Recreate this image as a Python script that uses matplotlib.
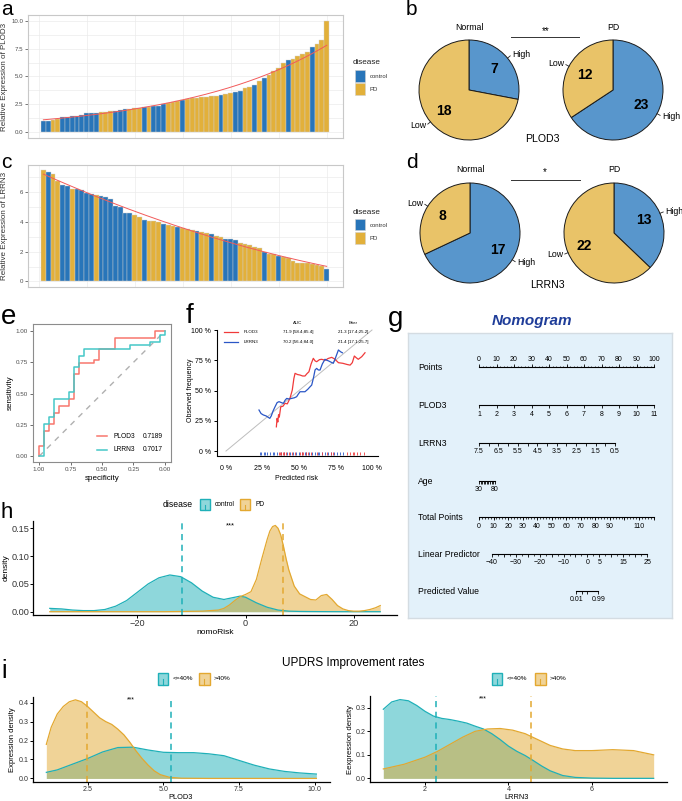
import matplotlib
matplotlib.use("Agg")
import matplotlib.pyplot as plt
import numpy as np
from matplotlib.patches import Rectangle
from matplotlib.lines import Line2D

plt.rcParams['font.family'] = ['Liberation Sans', 'DejaVu Sans']

W, H = 682, 801

# ------- data -------
# a: PLOD3 expression per sample, sorted; C = control, P = PD
plod3_expr = [1.0, 1.03, 1.1, 1.2, 1.34, 1.38, 1.45, 1.5, 1.6, 1.7,
              1.75, 1.78, 1.8, 1.85, 1.9, 1.95, 2.0, 2.05, 2.1, 2.15,
              2.2, 2.28, 2.3, 2.35, 2.4, 2.5, 2.6, 2.75, 2.85, 2.9,
              3.0, 3.05, 3.1, 3.15, 3.2, 3.25, 3.3, 3.35, 3.4, 3.55,
              3.65, 3.7, 3.95, 4.1, 4.25, 4.6, 4.9, 5.1, 5.5, 5.8,
              6.2, 6.5, 6.6, 6.8, 7.0, 7.2, 7.6, 7.9, 8.3, 10.0]
plod3_group = list("CCPPCCCCCCCCPPPCCCPPPCPCCCPPPCPPPPPPPCPPCCPPCPCPPPPCPPPPCPPP")

# c: LRRN3 expression per sample, sorted
lrrn3_expr = [7.45, 7.3, 7.2, 6.75, 6.45, 6.4, 6.2, 6.16, 6.1, 5.93,
              5.87, 5.8, 5.75, 5.66, 5.53, 5.08, 4.97, 4.6, 4.58, 4.47,
              4.3, 4.1, 4.07, 4.02, 3.96, 3.87, 3.8, 3.73, 3.66, 3.55,
              3.5, 3.46, 3.39, 3.28, 3.24, 3.15, 3.06, 2.97, 2.85, 2.83,
              2.79, 2.56, 2.52, 2.45, 2.34, 2.22, 2.0, 1.84, 1.82, 1.71,
              1.62, 1.55, 1.39, 1.26, 1.24, 1.21, 1.15, 1.1, 1.03, 0.85]
lrrn3_group = list("PCPPCCPCCCCPCCCCCCCPPCPPPCPPCPPPCPPCPPCCCPPPPPCPPCPPPPPPPPPC")

# b, d: counts High / Low
pie_b_normal = [7, 18]     # High, Low
pie_b_pd = [23, 12]        # High, Low
pie_d_normal = [17, 8]     # High, Low
pie_d_pd = [13, 22]        # High, Low

# e: ROC curves (specificity, sensitivity)
roc_plod3_spec = [1, 1, 0.96, 0.96, 0.92, 0.92, 0.88, 0.88, 0.84, 0.84, 0.76, 0.76, 0.72, 0.72,
                  0.68, 0.68, 0.56, 0.56, 0.52, 0.52, 0.40, 0.40, 0.08, 0.08, 0.0]
roc_plod3_sens = [0, 0.086, 0.086, 0.2, 0.2, 0.257, 0.257, 0.343, 0.343, 0.4, 0.4, 0.457, 0.457, 0.657,
                  0.657, 0.743, 0.743, 0.771, 0.771, 0.857, 0.857, 0.943, 0.943, 1.0, 1.0]
roc_lrrn3_spec = [1, 0.96, 0.96, 0.92, 0.92, 0.88, 0.88, 0.76, 0.76, 0.72, 0.72, 0.68, 0.68,
                  0.64, 0.64, 0.28, 0.28, 0.12, 0.12, 0.04, 0.04, 0.0, 0.0]
roc_lrrn3_sens = [0, 0, 0.257, 0.257, 0.314, 0.314, 0.457, 0.457, 0.514, 0.514, 0.714, 0.714, 0.80,
                  0.80, 0.857, 0.857, 0.886, 0.886, 0.914, 0.914, 0.971, 0.971, 1.0]
auc_plod3, auc_lrrn3 = 0.7189, 0.7017

# f: calibration curves
cal_plod3_x = [0.345, 0.35, 0.355, 0.36, 0.365, 0.375, 0.39, 0.404, 0.42, 0.438, 0.454, 0.465, 0.473,
               0.49, 0.507, 0.525, 0.541, 0.555, 0.568, 0.583, 0.598, 0.61, 0.621, 0.64, 0.655, 0.68,
               0.70, 0.724, 0.745, 0.77, 0.80, 0.83, 0.85, 0.865, 0.879, 0.893, 0.906, 0.93, 0.952]
cal_plod3_y = [0.20, 0.27, 0.24, 0.30, 0.28, 0.366, 0.37, 0.394, 0.39, 0.435, 0.504, 0.60, 0.642,
               0.632, 0.628, 0.62, 0.62, 0.64, 0.655, 0.72, 0.766, 0.745, 0.738, 0.755, 0.758, 0.75,
               0.765, 0.774, 0.76, 0.73, 0.725, 0.715, 0.71, 0.73, 0.785, 0.77, 0.758, 0.78, 0.812]
cal_lrrn3_x = [0.226, 0.24, 0.256, 0.275, 0.30, 0.31, 0.322, 0.336, 0.35, 0.363, 0.38, 0.393, 0.405,
               0.416, 0.43, 0.45, 0.468, 0.484, 0.495, 0.507, 0.525, 0.541, 0.56, 0.575, 0.587, 0.60,
               0.61, 0.621, 0.632, 0.644, 0.66, 0.678, 0.69, 0.70, 0.718, 0.735, 0.75, 0.77, 0.785, 0.797]
cal_lrrn3_y = [0.339, 0.31, 0.298, 0.29, 0.27, 0.29, 0.33, 0.366, 0.40, 0.408, 0.40, 0.394, 0.42,
               0.435, 0.43, 0.435, 0.44, 0.449, 0.47, 0.49, 0.49, 0.49, 0.51, 0.53, 0.545, 0.61,
               0.67, 0.683, 0.67, 0.669, 0.72, 0.758, 0.75, 0.746, 0.735, 0.725, 0.77, 0.835, 0.82, 0.812]
rug_plod3 = [0.36, 0.37, 0.38, 0.39, 0.40, 0.41, 0.43, 0.45, 0.47, 0.51, 0.52, 0.53, 0.55, 0.56,
             0.58, 0.62, 0.66, 0.69, 0.72, 0.73, 0.83, 0.85, 0.87, 0.88, 0.90, 0.92, 0.945]
rug_lrrn3 = [0.23, 0.24, 0.26, 0.27, 0.28, 0.30, 0.32, 0.33, 0.35, 0.38, 0.40, 0.42, 0.44, 0.46,
             0.48, 0.50, 0.52, 0.54, 0.55, 0.57, 0.59, 0.61, 0.63, 0.64, 0.66, 0.68, 0.70, 0.72,
             0.74, 0.76, 0.78, 0.80]
cal_rows = [["PLOD3", "71.9 [58.4;85.4]", "21.3 [17.4;25.2]"],
            ["LRRN3", "70.2 [56.4;84.0]", "21.4 [17.1;25.7]"]]

# g: nomogram scales
nomo_names = ["Points", "PLOD3", "LRRN3", "Age", "Total Points", "Linear Predictor", "Predicted Value"]
points_ticks = [0, 10, 20, 30, 40, 50, 60, 70, 80, 90, 100]
plod3_ticks = [1, 2, 3, 4, 5, 6, 7, 8, 9, 10, 11]
plod3_pts = [0, 100]                      # points at PLOD3 = 1 and 11
lrrn3_ticks = [7.5, 7, 6.5, 6, 5.5, 5, 4.5, 4, 3.5, 3, 2.5, 2, 1.5, 1, 0.5]
lrrn3_labels = [7.5, 6.5, 5.5, 4.5, 3.5, 2.5, 1.5, 0.5]
lrrn3_pts = [0, 77.7]                     # points at LRRN3 = 7.5 and 0.5
age_ticks = [30, 35, 40, 45, 50, 55, 60, 65, 70, 75, 80]
age_labels = [30, 80]
age_pts = [0, 9]                          # points at age 30 and 80
total_ticks = [0, 10, 20, 30, 40, 50, 60, 70, 80, 90, 100, 110, 120]
total_labels = [0, 10, 20, 30, 40, 50, 60, 70, 80, 90, 110]
lp_ticks = [-40, -35, -30, -25, -20, -15, -10, -5, 0, 5, 10, 15, 20, 25]
lp_labels = [-40, -30, -20, -10, 0, 5, 15, 25]
pred_ticks = [0.01, 0.1, 0.5, 0.99]
pred_labels = [0.01, 0.99]

# h: nomoRisk density
h_x_ctrl = [-36.2, -34, -32, -30, -28, -26, -24, -22, -20, -18, -16, -14, -12, -10, -8, -6, -4, -2, -1, 0,
            2, 4, 6, 8, 10, 12, 15, 18, 21, 24.9]
h_y_ctrl = [0.006, 0.005, 0.003, 0.002, 0.002, 0.004, 0.010, 0.020, 0.035, 0.050, 0.061, 0.066, 0.063,
            0.052, 0.037, 0.026, 0.022, 0.026, 0.028, 0.026, 0.016, 0.008, 0.003, 0.001, 0.0005, 0.0003,
            0.0001, 0.0, 0.0, 0.0]
h_x_pd = [-36.2, -25, -15, -8, -5, -4, -3, -2, -1, 0, 1, 2, 3, 4, 4.5, 5, 5.5, 6, 6.5, 7, 7.5, 8, 9, 10,
          11, 12, 13, 14, 15, 16, 17, 18, 19, 20, 21, 22, 23, 24, 24.9]
h_y_pd = [0.0, 0.0, 0.0, 0.001, 0.003, 0.006, 0.012, 0.020, 0.027, 0.031, 0.036, 0.058, 0.095, 0.130,
          0.145, 0.153, 0.155, 0.150, 0.138, 0.118, 0.095, 0.075, 0.046, 0.032, 0.027, 0.022, 0.021,
          0.029, 0.031, 0.022, 0.011, 0.005, 0.002, 0.001, 0.001, 0.002, 0.004, 0.007, 0.011]
h_mean_ctrl, h_mean_pd = -11.7, 6.9

# i: UPDRS improvement densities
i1_x_lo = [1.14, 1.5, 2.0, 2.5, 3.0, 3.5, 4.0, 4.5, 5.0, 5.5, 6.0, 6.5, 7.0, 7.5, 8.0, 8.5, 9.0, 9.5, 10.05]
i1_y_lo = [0.032, 0.045, 0.075, 0.105, 0.14, 0.163, 0.165, 0.15, 0.138, 0.136, 0.136, 0.13, 0.12,
           0.095, 0.07, 0.05, 0.037, 0.029, 0.023]
i1_x_hi = [1.14, 1.3, 1.5, 1.7, 1.9, 2.1, 2.3, 2.5, 2.7, 2.9, 3.1, 3.3, 3.5, 3.7, 3.9, 4.1, 4.3, 4.5,
           4.7, 4.9, 5.2, 5.6, 6.5, 10.05]
i1_y_hi = [0.18, 0.27, 0.34, 0.38, 0.405, 0.415, 0.405, 0.38, 0.35, 0.32, 0.30, 0.285, 0.26, 0.23,
           0.19, 0.145, 0.105, 0.07, 0.04, 0.02, 0.006, 0.001, 0.0, 0.0]
i1_mean_lo, i1_mean_hi = 5.24, 2.48
i2_x_lo = [1.0, 1.2, 1.4, 1.6, 1.8, 2.0, 2.2, 2.4, 2.6, 2.8, 3.0, 3.2, 3.4, 3.6, 3.8, 4.0, 4.2, 4.4,
           4.6, 4.8, 5.0, 5.3, 5.6, 6.0, 6.5, 7.0, 7.48]
i2_y_lo = [0.294, 0.325, 0.335, 0.33, 0.31, 0.285, 0.265, 0.255, 0.25, 0.243, 0.235, 0.222, 0.21,
           0.19, 0.165, 0.137, 0.115, 0.097, 0.075, 0.052, 0.032, 0.012, 0.004, 0.001, 0.0, 0.0, 0.0]
i2_x_hi = [1.0, 1.5, 2.0, 2.3, 2.6, 2.9, 3.2, 3.5, 3.8, 4.1, 4.4, 4.7, 5.0, 5.3, 5.6, 6.0, 6.5, 7.0, 7.48]
i2_y_hi = [0.04, 0.06, 0.09, 0.115, 0.145, 0.175, 0.2, 0.21, 0.212, 0.205, 0.19, 0.165, 0.14, 0.125,
           0.118, 0.118, 0.122, 0.118, 0.1]
i2_mean_lo, i2_mean_hi = 2.26, 4.55

# ------- colours -------
BAR_BLUE, BAR_YEL = "#2875B9", "#E2B03A"
PIE_BLUE, PIE_YEL = "#5896CC", "#E9C368"
RED_FIT = "#F25A5A"
ROC_RED, ROC_TEAL = "#F8766D", "#45C8C8"
CAL_RED, CAL_BLUE = "#F03A3A", "#2A56C6"
TEAL, YEL = "#1FB0B8", "#E3A830"

fig = plt.figure(figsize=(W / 100, H / 100), dpi=100)


def fx(x):
    return x / W


def fy(y):
    return 1 - y / H


def add_ax(x0, y0, x1, y1):
    return fig.add_axes([fx(x0), fy(y1), (x1 - x0) / W, (y1 - y0) / H])


def ftext(x, y, s, **kw):
    kw.setdefault('ha', 'center')
    kw.setdefault('va', 'center')
    return fig.text(fx(x), fy(y), s, **kw)


def fline(xs, ys, **kw):
    fig.add_artist(Line2D([fx(v) for v in xs], [fy(v) for v in ys], transform=fig.transFigure, **kw))


def fbox(x0, y0, x1, y1, face, edge, lw=0.8):
    fig.add_artist(Rectangle((fx(x0), fy(y1)), (x1 - x0) / W, (y1 - y0) / H,
                             transform=fig.transFigure, facecolor=face, edgecolor=edge, lw=lw))


def density_key(x0, y0, x1, y1, col):
    fbox(x0, y0, x1, y1, matplotlib.colors.to_rgba(col, 0.5), col, lw=1.0)
    xm = (x0 + x1) / 2
    fline([xm, xm], [y1, y0 + 0.5 * (y1 - y0)], color=col, lw=0.8)


# ------- a / c : sorted bar plots -------
def bar_panel(box, values, groups, ylim, yticks, yminor, ylabel, fit_deg, logfit):
    ax = add_ax(*box)
    x = np.arange(1, len(values) + 1)
    cols = [BAR_BLUE if g == "C" else BAR_YEL for g in groups]
    ax.bar(x, values, width=1.0, color=cols, edgecolor="#d0d0d0", linewidth=0.3, zorder=2)
    xs = np.linspace(1, len(values), 200)
    if logfit:
        cf = np.polyfit(x, np.log(values), fit_deg)
        ax.plot(xs, np.exp(np.polyval(cf, xs)), color=RED_FIT, lw=0.7, zorder=3)
    else:
        cf = np.polyfit(x, values, fit_deg)
        ax.plot(xs, np.polyval(cf, xs), color=RED_FIT, lw=0.7, zorder=3)
    ax.set_xlim(-2.2, 63.4)
    ax.set_ylim(*ylim)
    ax.set_xticks([0, 20, 40, 60])
    ax.set_xticks([10, 30, 50], minor=True)
    ax.set_yticks(yticks)
    ax.set_yticks(yminor, minor=True)
    ax.grid(True, which='both', color='#ebebeb', lw=0.5)
    ax.set_axisbelow(True)
    ax.tick_params(axis='x', which='both', length=0, labelbottom=False)
    ax.tick_params(axis='y', which='major', length=2, width=0.5, color='#444444',
                   labelsize=4.4, pad=1.5, labelcolor='#4d4d4d')
    ax.tick_params(axis='y', which='minor', length=0)
    for s in ax.spines.values():
        s.set_color('#c8c8c8')
        s.set_linewidth(0.8)
    ftext(5, (box[1] + box[3]) / 2, ylabel, rotation=90, fontsize=5.8, color='#333333')
    return ax


bar_panel((28, 15, 343, 138), plod3_expr, plod3_group, (-0.5, 10.5), [0, 2.5, 5, 7.5, 10],
          [1.25, 3.75, 6.25, 8.75], "Relative Expression of PLOD3", 1, True)
bar_panel((28, 165, 343, 287), lrrn3_expr, lrrn3_group, (-0.37, 7.8), [0, 2, 4, 6],
          [1, 3, 5, 7], "Relative Expression of LRRN3", 2, False)

for yy in (63, 212):
    ftext(353, yy, "disease", ha='left', fontsize=5.9, color='#222222')
    fbox(355, yy + 7.5, 365, yy + 18.5, BAR_BLUE, '#d0d0d0', lw=0.4)
    fbox(355, yy + 20.5, 365, yy + 31.5, BAR_YEL, '#d0d0d0', lw=0.4)
    ftext(370, yy + 13.5, "control", ha='left', fontsize=4.3, color='#333333')
    ftext(370, yy + 26.5, "PD", ha='left', fontsize=4.3, color='#333333')


# ------- b / d : pies -------
def pie_chart(cx, cy, values, names, colors, title):
    ax = add_ax(cx - 52, cy - 52, cx + 52, cy + 52)
    ax.pie(values, colors=colors, startangle=90, counterclock=False, radius=1.0,
           wedgeprops=dict(edgecolor='#1a1a1a', linewidth=0.7))
    ax.set_xlim(-1.04, 1.04)
    ax.set_ylim(-1.04, 1.04)
    total = sum(values)
    start = 0
    for v, name in zip(values, names):
        mid = np.deg2rad((start + v / 2) / total * 360)
        start += v
        sx, sy = np.sin(mid), np.cos(mid)
        ax.text(0.65 * sx, 0.65 * sy, str(v), ha='center', va='center', fontsize=10, fontweight='bold')
        ax.plot([sx, 1.07 * sx], [sy, 1.07 * sy], color='#222222', lw=0.6, clip_on=False)
        ax.text(1.11 * sx, 1.11 * sy, name, ha='left' if sx > 0 else 'right', va='center', fontsize=6.3)
    ftext(cx, cy - 63, title, fontsize=6.3)


pie_chart(469, 90, pie_b_normal, ["High", "Low"], [PIE_BLUE, PIE_YEL], "Normal")
pie_chart(613, 90, pie_b_pd, ["High", "Low"], [PIE_BLUE, PIE_YEL], "PD")
pie_chart(470, 233, pie_d_normal, ["High", "Low"], [PIE_BLUE, PIE_YEL], "Normal")
pie_chart(614, 233, pie_d_pd, ["High", "Low"], [PIE_BLUE, PIE_YEL], "PD")
fline([511, 579], [37.3, 37.3], color='#333333', lw=0.7)
ftext(546, 31, "**", fontsize=7)
fline([511, 580], [180, 180], color='#333333', lw=0.7)
ftext(545, 172, "*", fontsize=7)
ftext(542, 139, "PLOD3", fontsize=7.6)
ftext(547, 285, "LRRN3", fontsize=7.6)

# ------- e : ROC -------
axe = add_ax(33, 324, 171, 462)
axe.plot([1, 0], [0, 1], color='#b0b0b0', lw=1.0, dashes=(4, 4))
axe.plot(roc_plod3_spec, roc_plod3_sens, color=ROC_RED, lw=1.1)
axe.plot(roc_lrrn3_spec, roc_lrrn3_sens, color=ROC_TEAL, lw=1.1)
axe.set_xlim(1.048, -0.048)
axe.set_ylim(-0.045, 1.056)
axe.set_xticks([1, 0.75, 0.5, 0.25, 0])
axe.set_xticklabels(["1.00", "0.75", "0.50", "0.25", "0.00"])
axe.set_yticks([0, 0.25, 0.5, 0.75, 1])
axe.set_yticklabels(["0.00", "0.25", "0.50", "0.75", "1.00"])
axe.tick_params(length=2, width=0.5, color='#333333', labelsize=4.5, pad=1.5, labelcolor='#4d4d4d')
for s in axe.spines.values():
    s.set_color('#8c8c8c')
    s.set_linewidth(0.8)
ftext(102, 479, "specificity", fontsize=5.8)
ftext(10, 393, "sensitivity", rotation=90, fontsize=5.8)
fline([97, 107], [436, 436], color=ROC_RED, lw=1.1)
fline([97, 107], [449.5, 449.5], color=ROC_TEAL, lw=1.1)
ftext(113, 436, "PLOD3", ha='left', fontsize=4.8)
ftext(143, 436, f"{auc_plod3:.4f}", ha='left', fontsize=4.8)
ftext(113, 449.5, "LRRN3", ha='left', fontsize=4.8)
ftext(143, 449.5, f"{auc_lrrn3:.4f}", ha='left', fontsize=4.8)

# ------- f : calibration -------
axf = add_ax(200, 315, 385, 460)
axf.plot([0, 1], [0, 1], color='#bdbdbd', lw=0.7)
axf.plot(cal_plod3_x, cal_plod3_y, color=CAL_RED, lw=0.9)
axf.plot(cal_lrrn3_x, cal_lrrn3_y, color=CAL_BLUE, lw=0.9)
axf.vlines(rug_lrrn3, -0.035, -0.005, color=CAL_BLUE, lw=0.6)
axf.vlines(rug_plod3, -0.035, -0.005, color=CAL_RED, lw=0.6)
axf.set_xlim(-0.178, 1.089)
axf.set_ylim(-0.074, 1.124)
pct = [0, 0.25, 0.5, 0.75, 1]
pct_lab = ["0 %", "25 %", "50 %", "75 %", "100 %"]
axf.set_xticks(pct)
axf.set_xticklabels(pct_lab)
axf.set_yticks(pct)
axf.set_yticklabels(pct_lab)
axf.spines['top'].set_visible(False)
axf.spines['right'].set_visible(False)
axf.spines['left'].set_position(('data', -0.062))
axf.spines['left'].set_bounds(-0.035, 1.0)
axf.spines['bottom'].set_position(('data', -0.039))
axf.spines['bottom'].set_bounds(-0.062, 1.04)
axf.tick_params(axis='y', length=2.5, width=0.7, labelsize=5, pad=2)
axf.tick_params(axis='x', length=0, labelsize=5, pad=7)
ftext(296, 479, "Predicted risk", fontsize=5)
ftext(191, 390, "Observed frequency", rotation=90, fontsize=5)
ftext(298, 322.7, "AUC", fontsize=3.2)
ftext(353, 322.7, "Brier", fontsize=3.2)
for k, (row, col) in enumerate(zip(cal_rows, [CAL_RED, CAL_BLUE])):
    yy = 331.7 + 10 * k
    fline([224, 238], [yy, yy], color=col, lw=0.9)
    ftext(244, yy, row[0], ha='left', fontsize=3.2)
    ftext(298, yy, row[1], fontsize=3.2)
    ftext(353, yy, row[2], fontsize=3.2)

# ------- g : nomogram -------
axg = add_ax(408, 333, 672, 618)
axg.set_xlim(408, 672)
axg.set_ylim(618, 333)
axg.set_facecolor('#e3f1fa')
axg.set_xticks([])
axg.set_yticks([])
for s in axg.spines.values():
    s.set_color('#d4dce2')
    s.set_linewidth(1.0)
row_y = [367.3, 405.3, 442.7, 480.7, 517.3, 554, 590.7]
PX0, PX1 = 479, 654          # points axis 0..100


def pts_px(p):
    return PX0 + np.asarray(p, float) / 100 * (PX1 - PX0)


def lin(v, v0, v1, p0, p1):
    return p0 + (np.asarray(v, float) - v0) / (v1 - v0) * (p1 - p0)


def nomo_row(y, tick_px, lab_px, labels, up=False, minor_px=None):
    axg.plot([min(tick_px), max(tick_px)], [y, y], color='k', lw=0.8)
    d = -3.5 if up else 3.0
    axg.vlines(tick_px, y, y + d, color='k', lw=0.6)
    if minor_px is not None:
        axg.vlines(minor_px, y, y + d * 0.5, color='k', lw=0.5)
    for xp, lab in zip(lab_px, labels):
        axg.text(xp, y - 8 if up else y + 9, lab, ha='center', va='center', fontsize=5)


for name, yy in zip(nomo_names, row_y):
    axg.text(418, yy + 0.5, name, ha='left', va='center', fontsize=6.2)

pt_px = pts_px(points_ticks)
nomo_row(row_y[0], pt_px, pt_px, [str(v) for v in points_ticks], up=True,
         minor_px=pts_px(np.arange(0, 101, 2)))
p_px = pts_px(lin(plod3_ticks, 1, 11, *plod3_pts))
nomo_row(row_y[1], p_px, p_px, [str(v) for v in plod3_ticks])
l_px = pts_px(lin(lrrn3_ticks, 7.5, 0.5, *lrrn3_pts))
nomo_row(row_y[2], l_px, pts_px(lin(lrrn3_labels, 7.5, 0.5, *lrrn3_pts)), [str(v) for v in lrrn3_labels])
a_px = pts_px(lin(age_ticks, 30, 80, *age_pts))
nomo_row(row_y[3], a_px, pts_px(lin(age_labels, 30, 80, *age_pts)), [str(v) for v in age_labels])
TOT0, TOT1 = 479, 653.5
nomo_row(row_y[4], lin(total_ticks, 0, 120, TOT0, TOT1), lin(total_labels, 0, 120, TOT0, TOT1),
         [str(v) for v in total_labels], minor_px=lin(np.arange(0, 121, 2), 0, 120, TOT0, TOT1))
LP0, LP1 = 491.7, 647.3
nomo_row(row_y[5], lin(lp_ticks, -40, 25, LP0, LP1), lin(lp_labels, -40, 25, LP0, LP1),
         [str(v).replace('-', '\u2212') for v in lp_ticks if v in lp_labels],
         minor_px=lin(np.arange(-37.5, 25, 5), -40, 25, LP0, LP1))
logit = lambda p: np.log(np.asarray(p) / (1 - np.asarray(p)))
nomo_row(row_y[6], lin(logit(pred_ticks), -40, 25, LP0, LP1), lin(logit(pred_labels), -40, 25, LP0, LP1),
         [str(v) for v in pred_labels])
ftext(532, 321, "Nomogram", fontsize=11, fontweight='bold', fontstyle='italic', color='#1f3d99')


# ------- h / i : densities -------
def dens(ax, x, y, col):
    ax.fill_between(x, y, color=col, alpha=0.5, lw=0)
    ax.plot(x, y, color=col, lw=0.9)


def style_dens(ax, size):
    ax.spines['top'].set_visible(False)
    ax.spines['right'].set_visible(False)
    for s in ('left', 'bottom'):
        ax.spines[s].set_linewidth(0.9)
    ax.tick_params(length=2, width=0.7, labelsize=size, pad=0.8, labelcolor='#333333')


axh = add_ax(33, 521, 397, 615)
dens(axh, h_x_ctrl, h_y_ctrl, TEAL)
dens(axh, h_x_pd, h_y_pd, YEL)
axh.axvline(h_mean_ctrl, color=TEAL, lw=1.1, dashes=(4, 3))
axh.axvline(h_mean_pd, color=YEL, lw=1.1, dashes=(4, 3))
axh.set_xlim(-39.3, 28)
axh.set_ylim(-0.0059, 0.163)
axh.set_xticks([-20, 0, 20])
axh.set_yticks([0, 0.05, 0.10, 0.15])
axh.set_yticklabels(["0.00", "0.05", "0.10", "0.15"])
style_dens(axh, 6.6)
axh.text(-2.8, 0.154, "***", ha='center', va='center', fontsize=5.5)
ftext(215, 632.7, "nomoRisk", fontsize=6)
ftext(6, 568, "density", rotation=90, fontsize=6)
ftext(193, 504.3, "disease", ha='right', fontsize=6.2)
density_key(200, 499, 210, 510, TEAL)
ftext(215, 504.5, "control", ha='left', fontsize=4.8)
density_key(240, 499, 250, 510, YEL)
ftext(255, 504.5, "PD", ha='left', fontsize=4.8)

ftext(353, 663, "UPDRS Improvement rates", fontsize=8.5)

axi1 = add_ax(33, 697, 330, 782.3)
dens(axi1, i1_x_lo, i1_y_lo, TEAL)
dens(axi1, i1_x_hi, i1_y_hi, YEL)
axi1.axvline(i1_mean_lo, color=TEAL, lw=1.1, dashes=(4, 3))
axi1.axvline(i1_mean_hi, color=YEL, lw=1.1, dashes=(4, 3))
axi1.set_xlim(0.7, 10.5)
axi1.set_ylim(-0.0205, 0.43)
axi1.set_xticks([2.5, 5.0, 7.5, 10.0])
axi1.set_yticks([0, 0.1, 0.2, 0.3, 0.4])
style_dens(axi1, 5.1)
axi1.text(3.94, 0.415, "***", ha='center', va='center', fontsize=5)
ftext(181, 797.5, "PLOD3", fontsize=5.3)
ftext(12, 740, "Expression density", rotation=90, fontsize=5.5)

axi2 = add_ax(370, 695.6, 667, 782.3)
dens(axi2, i2_x_lo, i2_y_lo, TEAL)
dens(axi2, i2_x_hi, i2_y_hi, YEL)
axi2.axvline(i2_mean_lo, color=TEAL, lw=1.1, dashes=(4, 3))
axi2.axvline(i2_mean_hi, color=YEL, lw=1.1, dashes=(4, 3))
axi2.set_xlim(0.68, 7.8)
axi2.set_ylim(-0.0168, 0.352)
axi2.set_xticks([2, 4, 6])
axi2.set_yticks([0, 0.1, 0.2, 0.3])
style_dens(axi2, 5.1)
axi2.text(3.38, 0.338, "***", ha='center', va='center', fontsize=5)
ftext(517, 797.5, "LRRN3", fontsize=5.3)
ftext(350, 740, "Eexpression density", rotation=90, fontsize=5.5)

for x0, lab in ((157.7, "<=40%"), (491.7, "<=40%")):
    density_key(x0, 673, x0 + 10.6, 685, TEAL)
    ftext(x0 + 15, 679, lab, ha='left', fontsize=4.6)
for x0, lab in ((199, ">40%"), (535, ">40%")):
    density_key(x0, 673, x0 + 10.6, 685, YEL)
    ftext(x0 + 14.3, 679, lab, ha='left', fontsize=4.6)

# ------- panel letters -------
for s, x, y, size in (("a", 1, 15, 15), ("b", 406, 15, 15), ("c", 1, 168, 15), ("d", 406, 168, 15),
                      ("e", 1, 324, 20), ("f", 186, 323, 20), ("g", 388, 326, 20),
                      ("h", 1, 518, 16), ("i", 1, 678, 18)):
    ftext(x, y, s, ha='left', va='baseline', fontsize=size)

fig.savefig("out.png", dpi=100)
